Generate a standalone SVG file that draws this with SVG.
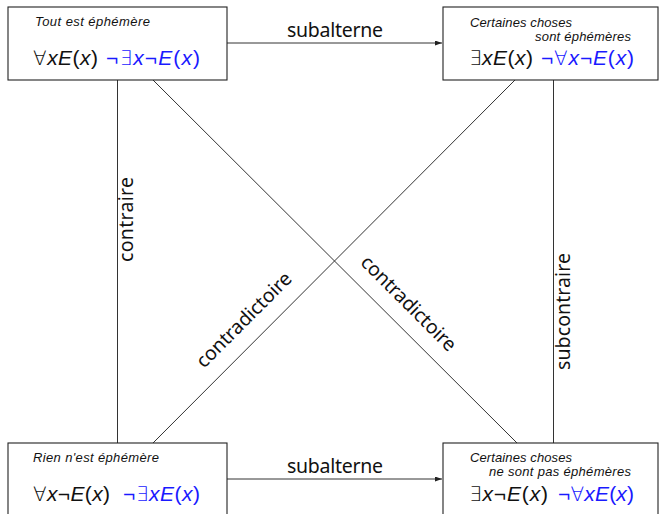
<svg xmlns="http://www.w3.org/2000/svg" width="659" height="514" viewBox="0 0 659 514">
<style>
  .box{fill:#fff;stroke:#222;stroke-width:1.1}
  .ln{stroke:#333;stroke-width:1;fill:none}
  .title{font-family:"Liberation Sans","DejaVu Sans",sans-serif;font-style:italic;font-size:13px;fill:#111}
  .f{font-family:"Liberation Sans","DejaVu Sans",sans-serif;font-size:21px;fill:#111}
  .b{fill:#1a1aff}
  .i{font-style:italic}
  .q{font-family:"DejaVu Sans",sans-serif;font-weight:200;font-size:20px}
  .lab{font-family:"Noto Sans","Open Sans",sans-serif;font-size:19.5px;fill:#111}
</style>
<defs>
  <marker id="ah" markerUnits="userSpaceOnUse" markerWidth="8" markerHeight="6" refX="7" refY="2.5" orient="auto">
    <path d="M0,0 L7,2.5 L0,5 z" fill="#222"/>
  </marker>
</defs>
<rect width="659" height="514" fill="#fff"/>
<g id="connectors">
  <line class="ln" x1="227" y1="43" x2="442" y2="43" marker-end="url(#ah)"/>
  <line class="ln" x1="227" y1="479" x2="442" y2="479" marker-end="url(#ah)"/>
  <line class="ln" x1="117.5" y1="80" x2="117.5" y2="443"/>
  <line class="ln" x1="553.5" y1="80" x2="553.5" y2="443"/>
  <line class="ln" x1="153" y1="80" x2="517" y2="443"/>
  <line class="ln" x1="515" y1="80" x2="153" y2="443"/>
  <text class="lab" x="335" y="37" text-anchor="middle" textLength="96">subalterne</text>
  <text class="lab" x="335" y="473" text-anchor="middle" textLength="96">subalterne</text>
  <text class="lab" text-anchor="middle" textLength="85" transform="translate(133,219.5) rotate(-90)">contraire</text>
  <text class="lab" text-anchor="middle" textLength="117" transform="translate(570,311.5) rotate(-90)">subcontraire</text>
  <text class="lab" text-anchor="middle" textLength="126" transform="translate(248.5,324.5) rotate(-45)">contradictoire</text>
  <text class="lab" text-anchor="middle" textLength="126" transform="translate(404,308) rotate(45)">contradictoire</text>
</g>
<g id="node-A">
  <rect class="box" x="8" y="7" width="219" height="73"/>
  <text class="title" x="35" y="26" textLength="115">Tout est éphémère</text>
  <text class="f" x="33" y="65" textLength="65"><tspan class="q">∀</tspan><tspan class="i">xE</tspan>(<tspan class="i">x</tspan>)</text>
  <text class="f b" x="106" y="65" textLength="94">¬<tspan class="q">∃</tspan><tspan class="i">x</tspan>¬<tspan class="i">E</tspan>(<tspan class="i">x</tspan>)</text>
</g>
<g id="node-I">
  <rect class="box" x="443" y="7" width="215" height="73"/>
  <text class="title" x="470" y="27" textLength="102">Certaines choses</text>
  <text class="title" x="535" y="41" textLength="96">sont éphémères</text>
  <text class="f" x="469" y="65" textLength="64"><tspan class="q">∃</tspan><tspan class="i">xE</tspan>(<tspan class="i">x</tspan>)</text>
  <text class="f b" x="541" y="65" textLength="93">¬<tspan class="q">∀</tspan><tspan class="i">x</tspan>¬<tspan class="i">E</tspan>(<tspan class="i">x</tspan>)</text>
</g>
<g id="node-E">
  <rect class="box" x="8" y="443" width="219" height="80"/>
  <text class="title" x="33" y="462" textLength="126">Rien n'est éphémère</text>
  <text class="f" x="33" y="501" textLength="77"><tspan class="q">∀</tspan><tspan class="i">x</tspan>¬<tspan class="i">E</tspan>(<tspan class="i">x</tspan>)</text>
  <text class="f b" x="123" y="501" textLength="77">¬<tspan class="q">∃</tspan><tspan class="i">xE</tspan>(<tspan class="i">x</tspan>)</text>
</g>
<g id="node-O">
  <rect class="box" x="443" y="443" width="215" height="80"/>
  <text class="title" x="470" y="462" textLength="102">Certaines choses</text>
  <text class="title" x="489" y="476" textLength="142">ne sont pas éphémères</text>
  <text class="f" x="469" y="501" textLength="79"><tspan class="q">∃</tspan><tspan class="i">x</tspan>¬<tspan class="i">E</tspan>(<tspan class="i">x</tspan>)</text>
  <text class="f b" x="558" y="501" textLength="76">¬<tspan class="q">∀</tspan><tspan class="i">xE</tspan>(<tspan class="i">x</tspan>)</text>
</g>
</svg>
